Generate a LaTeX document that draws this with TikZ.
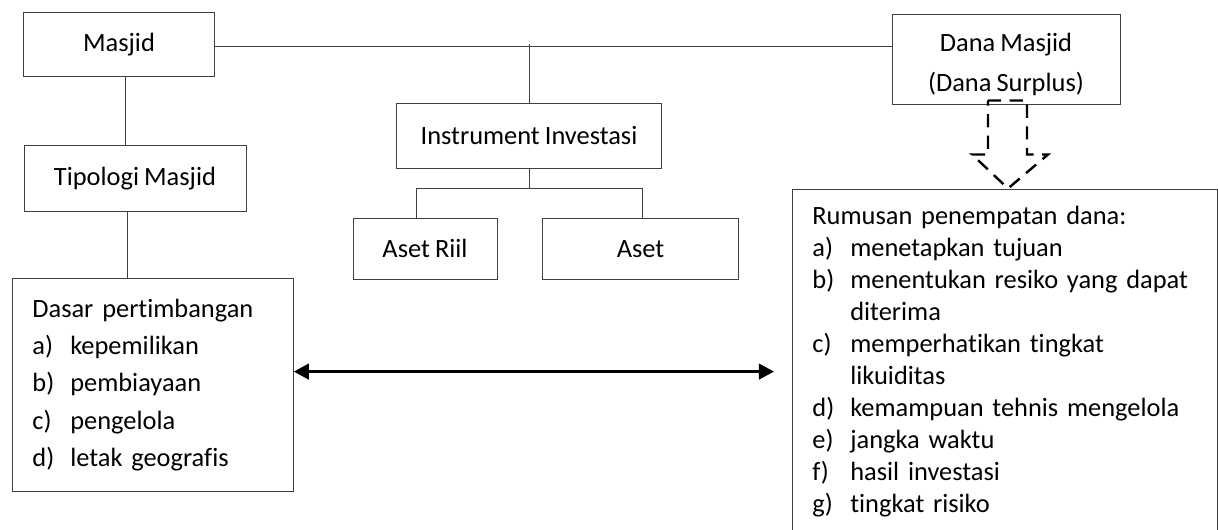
\documentclass[tikz,border=0pt]{standalone}
\usepackage{fontspec}
\setmainfont{Carlito}[Ligatures=NoCommon,WordSpace=0.85]
\usetikzlibrary{arrows.meta}
\newcommand\itm[2]{\makebox[15.8pt][l]{#1}#2}
\begin{document}
\begin{tikzpicture}[x=0.41667pt,y=-0.41667pt,
  box/.style={draw=black!75,font=\fontsize{11}{16.7}\selectfont,align=center,inner sep=0pt},
  listbox/.style={draw=black!75,anchor=north west,align=left,inner xsep=8.3pt,inner ysep=0pt}]
\useasboundingbox (0,0) rectangle (1218,530);
\node[box,minimum width=79.2pt,minimum height=26.3pt] (masjid) at (119,44.5) {Masjid};
\node[box,minimum width=95pt,minimum height=37.5pt] (dana) at (1006,59) {\begin{tabular}{@{}c@{}}\rule{0pt}{15.1pt}Dana Masjid\\(Dana Surplus)\end{tabular}};
\node[box,minimum width=92.5pt,minimum height=27.1pt] (tipologi) at (135,178.5) {Tipologi Masjid};
\node[box,minimum width=110.8pt,minimum height=26.7pt] (instrumen) at (529,136) {Instrument Investasi};
\node[box,minimum width=60pt,minimum height=25.4pt] (asetriil) at (425,248.5) {Aset Riil};
\node[box,minimum width=81.3pt,minimum height=25.8pt] (aset) at (640.5,249) {Aset};
\node[listbox,text width=100.4pt,minimum height=88.8pt,font=\fontsize{11}{15.6}\selectfont] (dasar) at (12,278) {Dasar pertimbangan\\
  \itm{a)}{kepemilikan}\\
  \itm{b)}{pembiayaan}\\
  \itm{c)}{pengelola}\\
  \itm{d)}{letak geografis}};
\node[listbox,text width=160.4pt,minimum height=143.3pt,font=\fontsize{11}{13.33}\selectfont] (rumusan) at (792,189) {Rumusan penempatan dana:\\
  \itm{a)}{menetapkan tujuan}\\
  \itm{b)}{menentukan resiko yang dapat}\\
  \hspace*{15.8pt}diterima\\
  \itm{c)}{memperhatikan tingkat}\\
  \hspace*{15.8pt}likuiditas\\
  \itm{d)}{kemampuan tehnis mengelola}\\
  \itm{e)}{jangka waktu}\\
  \itm{f)}{hasil investasi}\\
  \itm{g)}{tingkat risiko}};
% top line and branches
\draw[black!75] ([yshift=-1pt]masjid.east) -- ([yshift=-1pt]masjid.east -| dana.west);
\draw[black!75] (instrumen.north) -- (instrumen.north |- masjid.east);
\draw[black!75] ([xshift=2.5pt]masjid.south) -- ([xshift=2.5pt]masjid.south |- tipologi.north);
\draw[black!75] ([xshift=-3.3pt]tipologi.south) -- ([xshift=-3.3pt]tipologi.south |- dasar.north);
\draw[black!75] (instrumen.south) -- ++(0,20) coordinate (fork);
\draw[black!75] ([xshift=-3.75pt]asetriil.north) |- (fork) -| ([xshift=1pt]aset.north);
% dashed block arrow
\draw[line width=1pt,dash pattern=on 5.5pt off 3.5pt] (dana.south) ++(-18,-4) -- ++(39,0) -- ++(0,54) -- ++(21,0) -- ++(-40,34) -- ++(-36,-34) -- ++(16,0) -- cycle;
\draw[line width=1pt,{Triangle[length=6.3pt,width=6.5pt]}-{Triangle[length=6.3pt,width=6.5pt]},shorten >=7.5pt] ([yshift=5.6pt]dasar.east) -- ([yshift=5.6pt]dasar.east -| rumusan.west);
\end{tikzpicture}
\end{document}
